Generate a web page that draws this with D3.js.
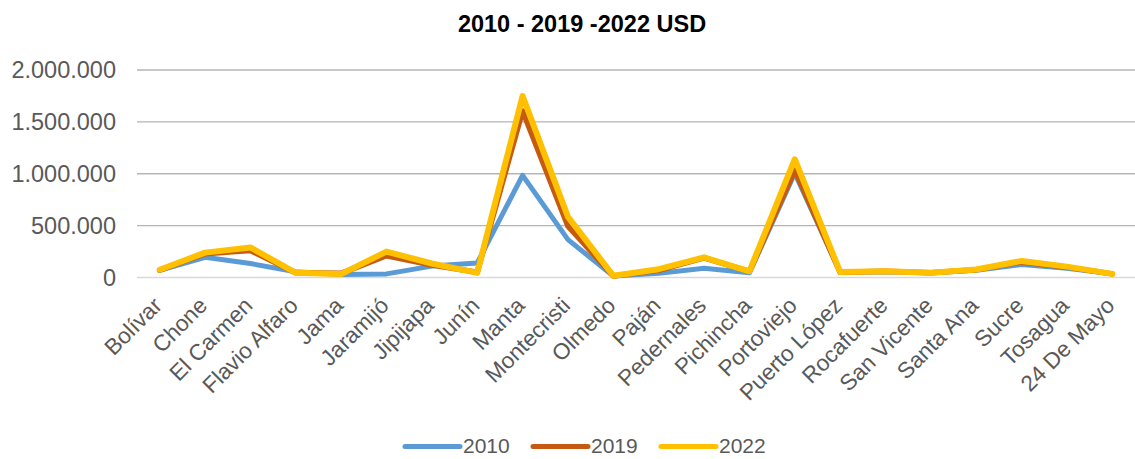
<!DOCTYPE html>
<html><head><meta charset="utf-8">
<script src="https://cdn.jsdelivr.net/npm/d3@7"></script>
<style>body{margin:0;background:#fff;}svg{display:block;font-family:"Liberation Sans",Arial,sans-serif;}</style>
</head><body><svg id="c" width="1135" height="459"></svg>
<script>
const categories = ["Bolívar","Chone","El Carmen","Flavio Alfaro","Jama","Jaramijó","Jipijapa","Junín","Manta","Montecristi","Olmedo","Paján","Pedernales","Pichincha","Portoviejo","Puerto López","Rocafuerte","San Vicente","Santa Ana","Sucre","Tosagua","24 De Mayo"];
const s2010 = [65000,190000,130000,50000,25000,30000,105000,135000,980000,360000,10000,35000,85000,40000,1000000,45000,50000,40000,65000,120000,85000,30000];
const s2019 = [65000,225000,255000,40000,35000,205000,115000,45000,1600000,490000,10000,65000,185000,55000,1030000,45000,55000,40000,70000,145000,95000,30000];
const s2022 = [70000,235000,285000,40000,28000,245000,130000,40000,1745000,580000,12000,75000,190000,55000,1135000,48000,55000,42000,72000,155000,100000,30000];
const seriesNames = ["2010","2019","2022"];
const colors = ["#5B9BD5","#C55A11","#FFC000"];
const yTicks = [0,500000,1000000,1500000,2000000];
const title = "2010 - 2019 -2022 USD";

const svg = d3.select("#c");
const mLeft = 137, mRight = 1135, mTop = 69.5, mBottom = 277;
const x = d3.scalePoint().domain(categories).range([mLeft, mRight]).padding(0.5);
const y = d3.scaleLinear().domain([0,2000000]).range([mBottom, mTop]);
const fmt = v => d3.format(",")(v).replace(/,/g,".");

svg.append("text").attr("x",582).attr("y",32).attr("text-anchor","middle")
  .attr("font-weight","bold").attr("font-size",23.5).attr("fill","#000").text(title);

const yAxis = svg.append("g").attr("transform",`translate(${mLeft},0)`)
  .call(d3.axisLeft(y).tickValues(yTicks).tickSize(-(mRight-mLeft)).tickFormat(fmt).tickPadding(21));
yAxis.select(".domain").remove();
yAxis.selectAll(".tick line").attr("stroke",d=>d===0?"#D9D9D9":"#B5B5B5").attr("stroke-width",1.3);
yAxis.selectAll(".tick text").attr("font-size",23.5).attr("fill","#595959").attr("dy","0.35em")
  .attr("font-family","Liberation Sans, Arial, sans-serif");

const xAxis = svg.append("g").attr("transform",`translate(0,${mBottom})`)
  .call(d3.axisBottom(x).tickSize(0));
xAxis.select(".domain").remove();
xAxis.selectAll(".tick text").attr("font-size",22.5).attr("fill","#595959")
  .attr("font-family","Liberation Sans, Arial, sans-serif")
  .attr("text-anchor","end").attr("dy",null).attr("y",0)
  .attr("transform","translate(3,30) rotate(-45)");

const line = d3.line().x((d,i)=>x(categories[i])).y(d=>y(d));
const widths = [5,5.5,6];
[s2010,s2019,s2022].forEach((s,k)=>{
  svg.append("path").datum(s).attr("d",line).attr("fill","none")
    .attr("stroke",colors[k]).attr("stroke-width",widths[k]).attr("stroke-linejoin","round").attr("stroke-linecap","round");
});

const lx = [405,533,661];
seriesNames.forEach((n,k)=>{
  const g = svg.append("g");
  g.append("line").attr("x1",lx[k]).attr("x2",lx[k]+55).attr("y1",446.5).attr("y2",446.5)
    .attr("stroke",colors[k]).attr("stroke-width",5).attr("stroke-linecap","round");
  g.append("text").attr("x",lx[k]+58).attr("y",453).attr("font-size",21).attr("fill","#595959").text(n);
});
</script></body></html>
